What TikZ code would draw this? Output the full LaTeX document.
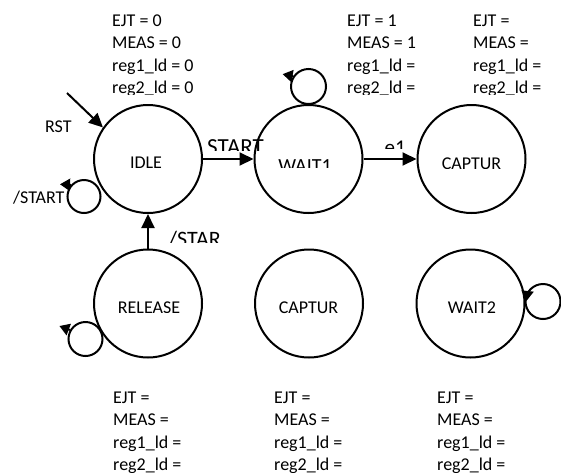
\documentclass[tikz,border=0pt]{standalone}
\usepackage{fontspec}
\setmainfont{Carlito}
\usetikzlibrary{arrows.meta}

\begin{document}
\begin{tikzpicture}[x=1pt,y=-1pt,
  state/.style={circle,draw,line width=2pt,minimum size=108pt,inner sep=0pt},
  loopc/.style={circle,draw,line width=2pt,inner sep=0pt},
  arr/.style={line width=2pt,-{Triangle[length=14pt,width=13pt]}},
  looparr/.style={line width=2pt,-{Triangle[length=10pt,width=12pt]}},
  txt/.style={font=\fontsize{18}{22.5}\selectfont,inner sep=0pt,text=black},
  bigtxt/.style={font=\fontsize{#1}{#1}\selectfont,inner sep=0pt,text=black},
  lbl/.style={txt,anchor=base west},
  clbl/.style={txt,anchor=base},
]
\useasboundingbox (0,0) rectangle (561,472);

% states
\node[state] (idle)    at (148,159)   {};
\node[state] (wait1)   at (308.5,159) {};
\node[state] (captA)   at (471.5,159) {};
\node[state] (release) at (148,303.5) {};
\node[state] (captB)   at (309,303.5) {};
\node[state] (wait2)   at (470.5,303.5) {};

% state names (the text boxes crop them at the bottom)
\node[clbl] (tidle) at (146,168.5) {IDLE};
\begin{scope}
  \clip (250,150) rectangle (360,167);
  \node[bigtxt=20,anchor=base] (twait1) at (305,172.9) {WAIT1};
\end{scope}
\begin{scope}
  \clip (420,150) rectangle (525,168.5);
  \node[clbl] (tcaptA) at (471.5,169.6) {CAPTUR};
\end{scope}
\begin{scope}
  \clip (95,290) rectangle (200,312);
  \node[clbl] (trelease) at (149,313.6) {RELEASE};
\end{scope}
\begin{scope}
  \clip (255,290) rectangle (360,313);
  \node[clbl] (tcaptB) at (308.5,313.6) {CAPTUR};
\end{scope}
\node[clbl] (twait2) at (472,313.6) {WAIT2};

% transitions
\coordinate (rstfrom) at (67,93);
\draw[arr] (rstfrom) -- (idle.145);
\draw[arr] (idle) -- (wait1);
\draw[arr] (wait1) -- (captA);
\draw[arr] (release) -- (idle);

% transition labels
\node[lbl] (trst) at (45,132.5) {RST};
\begin{scope}
  \clip (200,130) rectangle (280,150.7);
  \node[bigtxt=23,anchor=base west] (tstart) at (207,154.8) {START};
\end{scope}
\begin{scope}
  \clip (380,130) rectangle (415,148);
  \node[bigtxt=21,anchor=base west] (te1) at (384.5,154.5) {e1};
\end{scope}
\begin{scope}
  \clip (160,225) rectangle (240,242);
  \node[bigtxt=22,anchor=base west] (tstar) at (168.5,246) {/STAR};
\end{scope}
\begin{scope}
  \clip (0,180) rectangle (70,204.5);
  \node[lbl] (tnstart) at (13,203.6) {/START};
\end{scope}

% self loops
\node[loopc,minimum size=33pt] (idleloop)    at (84,196.5)  {};
\node[loopc,minimum size=35pt] (wait1loop)   at (308.5,86.5) {};
\node[loopc,minimum size=34pt] (releaseloop) at (85.5,339)  {};
\node[loopc,minimum size=35pt] (wait2loop)   at (543,301.5) {};
\draw[looparr] (idleloop.138)    -- ++(-11,-0.5);
\draw[looparr] (wait1loop.146)   -- ++(-10.5,-2);
\draw[looparr] (releaseloop.150) -- ++(-10.5,-4);
\draw[looparr] (wait2loop.147)   -- ++(-1,9.5);

% output tables above the top row (cropped at the bottom)
\begin{scope}
  \clip (0,0) rectangle (561,94.5);
  \foreach \t [count=\i] in {EJT = 0, MEAS = 0, reg1\_ld = 0, reg2\_ld = 0}
    \node[lbl] (oidle\i) at (112,{26+22.5*(\i-1)}) {\t};
  \foreach \t [count=\i] in {EJT = 1, MEAS = 1, reg1\_ld =, reg2\_ld =}
    \node[lbl] (owaitA\i) at (347,{26+22.5*(\i-1)}) {\t};
  \foreach \t [count=\i] in {EJT =, MEAS =, reg1\_ld =, reg2\_ld =}
    \node[lbl] (ocaptA\i) at (473,{26+22.5*(\i-1)}) {\t};
\end{scope}

% output tables below the bottom row
\begin{scope}
  \clip (0,380) rectangle (561,472);
  \foreach \t [count=\i] in {EJT =, MEAS =, reg1\_ld =, reg2\_ld =}
    \node[lbl] (orel\i) at (113,{403+22.5*(\i-1)}) {\t};
  \foreach \t [count=\i] in {EJT =, MEAS =, reg1\_ld =, reg2\_ld =}
    \node[lbl] (ocaptB\i) at (274,{403+22.5*(\i-1)}) {\t};
  \foreach \t [count=\i] in {EJT =, MEAS =, reg1\_ld =, reg2\_ld =}
    \node[lbl] (owaitB\i) at (437,{403+22.5*(\i-1)}) {\t};
\end{scope}
\end{tikzpicture}
\end{document}
